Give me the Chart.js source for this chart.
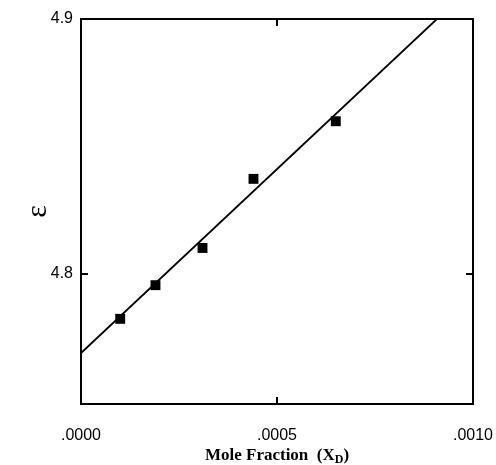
<!DOCTYPE html>
<html>
<head>
<meta charset="utf-8">
<script src="https://cdn.jsdelivr.net/npm/chart.js@4.4.1/dist/chart.umd.min.js"></script>
<style>
  body { margin: 0; background: #fff; }
  canvas { display: block; }
</style>
</head>
<body>
<canvas id="eps" width="496" height="465"></canvas>
<script>
// measured points
let moleFraction = [0.0001, 0.00019, 0.00031, 0.00044, 0.00065];
let epsilon = [4.7824, 4.7956, 4.8102, 4.8373, 4.8599];
// fitted line end points
let fitX = [0, 0.000908];
let fitY = [4.769, 4.9];
// tick positions
let xTicks = [0, 0.0005, 0.001];
let yTicks = [4.8, 4.9];

let pointData = moleFraction.map(function (x, i) { return { x: x, y: epsilon[i] }; });
let fitData = fitX.map(function (x, i) { return { x: x, y: fitY[i] }; });

// box + inward ticks + x title with subscript
let framePlugin = {
    id: 'frame',
    afterDraw: function (chart) {
        let ctx = chart.ctx;
        let a = chart.chartArea;
        let xs = chart.scales.x, ys = chart.scales.y;
        ctx.save();
        ctx.strokeStyle = '#000';
        ctx.lineWidth = 2;
        ctx.strokeRect(a.left, a.top, a.right - a.left, a.bottom - a.top);
        ctx.beginPath();
        xTicks.forEach(function (v) {
            let px = xs.getPixelForValue(v);
            ctx.moveTo(px, a.bottom); ctx.lineTo(px, a.bottom - 7);
            ctx.moveTo(px, a.top); ctx.lineTo(px, a.top + 7);
        });
        yTicks.forEach(function (v) {
            let py = ys.getPixelForValue(v);
            ctx.moveTo(a.left, py); ctx.lineTo(a.left + 7, py);
            ctx.moveTo(a.right, py); ctx.lineTo(a.right - 7, py);
        });
        ctx.stroke();

        // x axis title
        let main = 'bold 17px "Liberation Serif"';
        let sub = 'bold 12px "Liberation Serif"';
        let p1 = 'Mole Fraction  (X', p2 = 'D', p3 = ')';
        ctx.font = main;
        let w1 = ctx.measureText(p1).width, w3 = ctx.measureText(p3).width;
        ctx.font = sub;
        let w2 = ctx.measureText(p2).width;
        let x0 = (a.left + a.right) / 2 - (w1 + w2 + w3) / 2;
        let base = 460;
        ctx.fillStyle = '#000';
        ctx.textBaseline = 'alphabetic';
        ctx.textAlign = 'left';
        ctx.font = main;
        ctx.fillText(p1, x0, base);
        ctx.font = sub;
        ctx.fillText(p2, x0 + w1, base + 3);
        ctx.font = main;
        ctx.fillText(p3, x0 + w1 + w2, base);
        ctx.restore();
    }
};

let epsChart = new Chart(document.getElementById('eps'), {
    type: 'scatter',
    data: {
        datasets: [
            {
                data: pointData,
                pointStyle: 'rect',
                pointRadius: 7,
                backgroundColor: '#000',
                borderColor: '#000',
                borderWidth: 0,
                showLine: false,
                order: 1
            },
            {
                data: fitData,
                showLine: true,
                pointRadius: 0,
                borderColor: '#000',
                borderWidth: 1.8,
                order: 2
            }
        ]
    },
    options: {
        responsive: false,
        animation: false,
        layout: { padding: { top: 19, right: 23, left: 0, bottom: 0 } },
        plugins: {
            legend: { display: false },
            tooltip: { enabled: false }
        },
        scales: {
            x: {
                type: 'linear',
                min: 0,
                max: 0.001,
                afterBuildTicks: function (scale) {
                    scale.ticks = xTicks.map(function (v) { return { value: v }; });
                },
                afterFit: function (scale) {
                    scale.height = 61;
                    scale.paddingLeft = 0;
                    scale.paddingRight = 0;
                },
                grid: { display: false, drawTicks: false },
                border: { display: false },
                ticks: {
                    padding: 22,
                    color: '#000',
                    maxRotation: 0,
                    font: { family: '"Liberation Sans"', size: 16 },
                    callback: function (v) { return v.toFixed(4).replace(/^0/, ''); }
                }
            },
            y: {
                min: 4.749,
                max: 4.9,
                afterBuildTicks: function (scale) {
                    scale.ticks = yTicks.map(function (v) { return { value: v }; });
                },
                afterFit: function (scale) {
                    scale.width = 81;
                    scale.paddingTop = 0;
                    scale.paddingBottom = 0;
                },
                grid: { display: false, drawTicks: false },
                border: { display: false },
                ticks: {
                    padding: 8,
                    color: '#000',
                    font: { family: '"Liberation Sans"', size: 16 },
                    callback: function (v) { return v.toFixed(1); }
                },
                title: {
                    display: true,
                    text: 'ε',
                    color: '#000',
                    padding: { top: 20 },
                    font: { family: '"Liberation Serif"', size: 30 }
                }
            }
        }
    },
    plugins: [framePlugin]
});
</script>
</body>
</html>
